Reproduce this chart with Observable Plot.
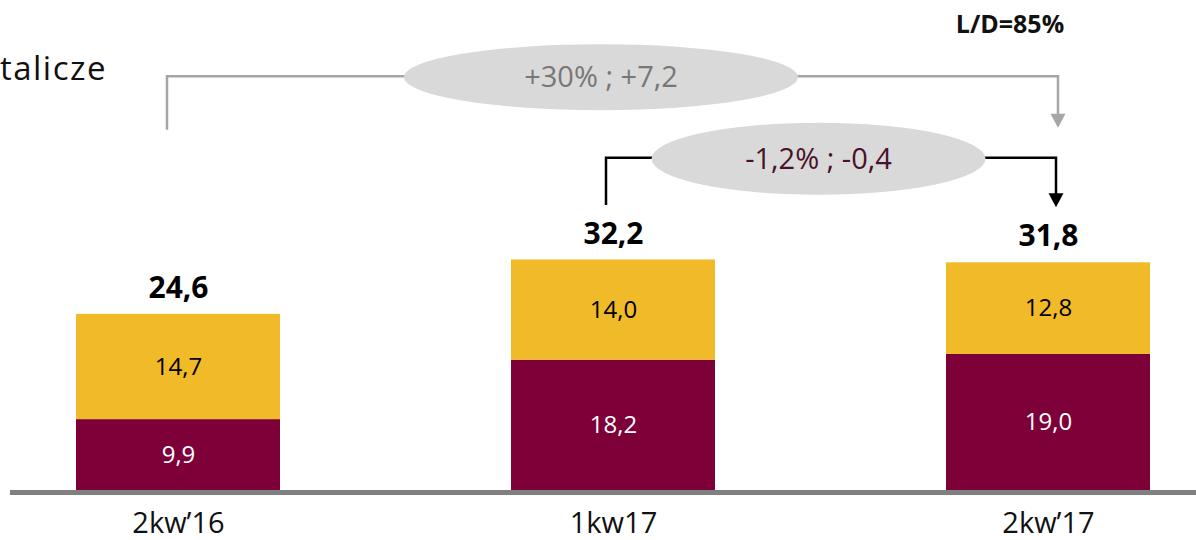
<!DOCTYPE html>
<html>
<head>
<meta charset="utf-8">
<script src="https://cdn.jsdelivr.net/npm/d3@7"></script>
<script src="https://cdn.jsdelivr.net/npm/@observablehq/plot@0.6"></script>
<style>
  html, body { margin: 0; padding: 0; background: #ffffff; }
  #chart { position: relative; width: 1196px; height: 540px; overflow: hidden; font-family: "Open Sans", sans-serif; }
  #chart svg { position: absolute; left: 0; top: 0; }
</style>
</head>
<body>
<div id="chart"></div>
<script>
// ---- data ----
const categories = ["2kw\u201916", "1kw17", "2kw\u201917"];
const seriesNames = ["bottom", "top"];
const bottomValues = [9.9, 18.2, 19.0];
const topValues = [14.7, 14.0, 12.8];
const changeFrom = ["2kw\u201916", "1kw17"];
const changeTo = ["2kw\u201917", "2kw\u201917"];
const changeLabels = ["+30% ; +7,2", "-1,2% ; -0,4"];
const headerLeft = "talicze";
const headerRight = "L/D=85%";

// ---- build tidy table ----
const rows = [];
categories.forEach((c, i) => {
  rows.push({quarter: c, series: "bottom", value: bottomValues[i]});
  rows.push({quarter: c, series: "top", value: topValues[i]});
});
const totals = categories.map((c, i) => ({quarter: c, total: +(bottomValues[i] + topValues[i]).toFixed(1)}));
const fmt = v => v.toFixed(1).replace(".", ",");

const MAROON = "#7e0039";
const YELLOW = "#f0ba28";
const FONT = "Open Sans, sans-serif";

const plot = Plot.plot({
  width: 1196,
  height: 540,
  marginLeft: 10, marginRight: 0, marginTop: 0, marginBottom: 0,
  style: {background: "transparent", fontFamily: FONT},
  x: {type: "band", domain: categories, range: [75, 1150], paddingInner: 0.5316, paddingOuter: 0, axis: null},
  y: {domain: [0, 60], range: [490, 60.4], axis: null},
  color: {domain: seriesNames, range: [MAROON, YELLOW]},
  marks: [
    Plot.barY(rows, {x: "quarter", y: "value", fill: "series"}),
    Plot.text(rows, Plot.stackY({x: "quarter", y: "value", text: d => d.series === "bottom" ? fmt(d.value) : "", fill: "white", fontSize: 24, fontFamily: FONT})),
    Plot.text(rows, Plot.stackY({x: "quarter", y: "value", text: d => d.series === "top" ? fmt(d.value) : "", fill: "black", fontSize: 24, fontFamily: FONT})),
    Plot.text(totals, {x: "quarter", y: "total", text: d => fmt(d.total), dy: -26, fontSize: 30, fontWeight: "bold", fill: "black", fontFamily: FONT}),
    Plot.ruleY([0], {stroke: "#808080", strokeWidth: 5, dy: 2}),
    Plot.text(categories, {x: d => d, y: 0, text: d => d, dy: 33, fontSize: 29, fill: "#111", fontFamily: FONT})
  ]
});
document.getElementById("chart").appendChild(plot);

// ---- change annotations through the plot's own scales ----
const xs = plot.scale("x"), ys = plot.scale("y");
const cx = c => xs.apply(c) + xs.bandwidth / 2;
const svg = d3.select(plot);
const g = svg.append("g");
const specs = [
  {level: 57.8, startLevel: 50.3, endLevel: 50.6, dl: -11, dr: 10, stroke: "#a6a6a6", textFill: "#777777", ecx: -12, rx: 197, ry: 33},
  {level: 46.4, startLevel: 39.8, endLevel: 39.5, dl: -7, dr: 8, stroke: "#000000", textFill: "#4a1228", ecx: -12, rx: 167, ry: 36}
];
changeLabels.forEach((label, i) => {
  const s = specs[i];
  const x1 = cx(changeFrom[i]) + s.dl;
  const x2 = cx(changeTo[i]) + s.dr;
  const yl = ys.apply(s.level), y1 = ys.apply(s.startLevel), y2 = ys.apply(s.endLevel);
  g.append("path")
    .attr("d", `M${x1},${y1}V${yl}H${x2}V${y2 - 13}`)
    .attr("fill", "none").attr("stroke", s.stroke).attr("stroke-width", 2.5);
  g.append("path")
    .attr("d", `M${x2 - 7.5},${y2 - 14}L${x2 + 7.5},${y2 - 14}L${x2},${y2}Z`)
    .attr("fill", s.stroke);
  const ex = (cx(changeFrom[i]) + cx(changeTo[i])) / 2 + s.ecx;
  g.append("ellipse").attr("cx", ex).attr("cy", yl + 1).attr("rx", s.rx).attr("ry", s.ry).attr("fill", "#d9d9d9");
  g.append("text").attr("x", ex).attr("y", yl + 1).attr("dy", "0.35em")
    .attr("text-anchor", "middle").attr("font-family", FONT).attr("font-size", 29)
    .attr("fill", s.textFill).text(label);
});
svg.append("text").attr("x", 107).attr("y", 80).attr("text-anchor", "end")
  .attr("font-family", FONT).attr("font-size", 33).attr("letter-spacing", 1.5).attr("fill", "#111").text(headerLeft);
svg.append("text").attr("x", 1010).attr("y", 33).attr("text-anchor", "middle")
  .attr("font-family", FONT).attr("font-size", 25).attr("font-weight", "bold").attr("fill", "#111").text(headerRight);
</script>
</body>
</html>
